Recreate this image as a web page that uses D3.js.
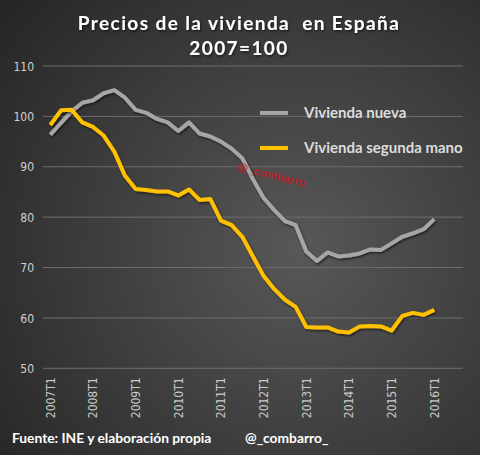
<!DOCTYPE html>
<html lang="es">
<head>
<meta charset="UTF-8">
<title>Precios de la vivienda en España</title>
<script src="https://cdnjs.cloudflare.com/ajax/libs/d3/7.8.5/d3.min.js"></script>
<style>
  html, body { margin: 0; padding: 0; background: #2a2a2a; }
  svg { display: block; }
</style>
</head>
<body>
<script>

// datos: indice 2007=100, trimestral
var years = [2007, 2008, 2009, 2010, 2011, 2012, 2013, 2014, 2015, 2016];
var quarters = ["T1", "T2", "T3", "T4"];
var yTicks = [50, 60, 70, 80, 90, 100, 110];

var nueva = [96.4, 98.7, 101.0, 102.7, 103.2, 104.6, 105.2, 103.7,
             101.3, 100.7, 99.5, 98.8, 97.1, 98.8, 96.6, 96.0,
             95.0, 93.6, 91.7, 87.5, 83.8, 81.4, 79.2, 78.4,
             73.2, 71.3, 73.0, 72.2, 72.4, 72.8, 73.6, 73.5,
             74.8, 76.1, 76.8, 77.6, 79.6];

var segunda = [98.3, 101.2, 101.3, 98.8, 97.9, 96.2, 93.0, 88.2,
               85.6, 85.4, 85.1, 85.1, 84.3, 85.5, 83.4, 83.6,
               79.3, 78.4, 76.1, 72.2, 68.3, 65.7, 63.6, 62.2,
               58.2, 58.1, 58.1, 57.3, 57.1, 58.3, 58.4, 58.3,
               57.5, 60.4, 61.0, 60.6, 61.6];

var seriesNames = ["Vivienda nueva", "Vivienda segunda mano"];
var seriesColors = ["#a6a6a6", "#ffc000"];

// categorias 2007T1 .. 2016T3 (las dos ultimas sin dato, como en la hoja)
var cats = [];
years.forEach(function(y) {
  quarters.forEach(function(q) { cats.push(y + q); });
});
cats = cats.slice(0, 39);

var width = 480, height = 455;
var plot = {left: 43, right: 463, top: 66, bottom: 368.3};

var svg = d3.select("body").append("svg")
    .attr("width", width)
    .attr("height", height);

var defs = svg.append("defs");
var grad = defs.append("radialGradient")
    .attr("id", "bg")
    .attr("gradientUnits", "userSpaceOnUse")
    .attr("cx", 300).attr("cy", 250).attr("r", 380);
grad.append("stop").attr("offset", "0%").attr("stop-color", "#585858");
grad.append("stop").attr("offset", "100%").attr("stop-color", "#262626");

var shadow = defs.append("filter").attr("id", "shadow")
    .attr("x", "-10%").attr("y", "-10%").attr("width", "130%").attr("height", "130%");
shadow.append("feDropShadow")
    .attr("dx", 1).attr("dy", 1.5).attr("stdDeviation", 1.2)
    .attr("flood-color", "#000").attr("flood-opacity", 0.6);

svg.append("rect")
    .attr("width", width).attr("height", height)
    .attr("fill", "url(#bg)");

var x = d3.scaleBand()
    .domain(cats)
    .range([45, 461])
    .padding(0);

var y = d3.scaleLinear()
    .domain([50, 110])
    .range([plot.bottom, plot.top]);

function cx(c) { return x(c) + x.bandwidth() / 2; }

// rejilla
svg.append("g")
  .selectAll("line")
  .data(yTicks)
  .enter().append("line")
    .attr("x1", plot.left).attr("x2", plot.right)
    .attr("y1", function(d) { return y(d); })
    .attr("y2", function(d) { return y(d); })
    .attr("stroke", "#6e6e6e")
    .attr("stroke-width", 1);

// eje y
var yAxis = svg.append("g")
    .attr("transform", "translate(" + (plot.left - 9) + ",0)")
    .call(d3.axisLeft(y).tickValues(yTicks).tickSize(0).tickPadding(0));
yAxis.select(".domain").remove();
yAxis.selectAll("text")
    .attr("fill", "#d0d0d0")
    .style("font-family", "'Liberation Sans Narrow', 'DejaVu Sans Condensed', sans-serif")
    .style("font-size", "12px")
    .attr("dy", "0.35em");

// eje x
var xAxis = svg.append("g")
    .attr("transform", "translate(0," + (plot.bottom + 9) + ")")
    .call(d3.axisBottom(x)
      .tickValues(cats.filter(function(c, i) { return i % 4 === 0; }))
      .tickSize(0).tickPadding(0));
xAxis.select(".domain").remove();
xAxis.selectAll("text")
    .attr("fill", "#c8c8c8")
    .style("font-family", "'Liberation Sans Narrow', 'DejaVu Sans Condensed', sans-serif")
    .style("font-size", "12px")
    .attr("text-anchor", "end")
    .attr("transform", "rotate(-90)")
    .attr("x", 0)
    .attr("y", 0)
    .attr("dx", 0)
    .attr("dy", "0.35em");

// lineas
var line = d3.line()
    .x(function(d, i) { return cx(cats[i]); })
    .y(function(d) { return y(d); });

[nueva, segunda].forEach(function(s, k) {
  svg.append("path")
      .datum(s)
      .attr("d", line)
      .attr("fill", "none")
      .attr("stroke", seriesColors[k])
      .attr("stroke-width", 4)
      .attr("stroke-linejoin", "round")
      .attr("filter", "url(#shadow)");
});

// marca de agua
svg.append("text")
    .attr("transform", "translate(236,170) rotate(14)")
    .attr("fill", "#b3262b")
    .style("font-family", "'Liberation Sans Narrow', sans-serif")
    .style("font-size", "11.5px")
    .style("font-weight", "bold")
    .text("@_combarro_");

// leyenda
var legend = svg.append("g");
seriesNames.forEach(function(n, k) {
  var ly = 113 + k * 35;
  legend.append("line")
      .attr("x1", 260).attr("x2", 288)
      .attr("y1", ly).attr("y2", ly)
      .attr("stroke", seriesColors[k])
      .attr("stroke-width", 4);
  legend.append("text")
      .attr("x", 304).attr("y", ly + 5)
      .attr("fill", "#dcdcdc")
      .style("font-family", "Lato, sans-serif")
      .style("font-size", "15px")
      .style("font-weight", "bold")
      .text(n);
});

// titulo
var title = svg.append("g").attr("filter", "url(#shadow)")
    .style("font-family", "Lato, sans-serif")
    .style("font-weight", "bold")
    .attr("fill", "#ffffff")
    .attr("text-anchor", "middle");
title.append("text")
    .attr("x", 239).attr("y", 30)
    .attr("xml:space", "preserve")
    .style("white-space", "pre")
    .style("font-size", "19px")
    .style("letter-spacing", "1.4px")
    .text("Precios de la vivienda  en España");
title.append("text")
    .attr("x", 239).attr("y", 55)
    .style("font-size", "19px")
    .style("letter-spacing", "1.4px")
    .text("2007=100");

// pie
var foot = svg.append("g")
    .attr("fill", "#ffffff")
    .style("font-family", "Lato, sans-serif")
    .style("font-weight", "bold")
    .style("font-size", "13.8px");
foot.append("text").attr("x", 12).attr("y", 443).text("Fuente: INE y elaboración propia");
foot.append("text").attr("x", 245).attr("y", 443).text("@_combarro_");

</script>
</body>
</html>
